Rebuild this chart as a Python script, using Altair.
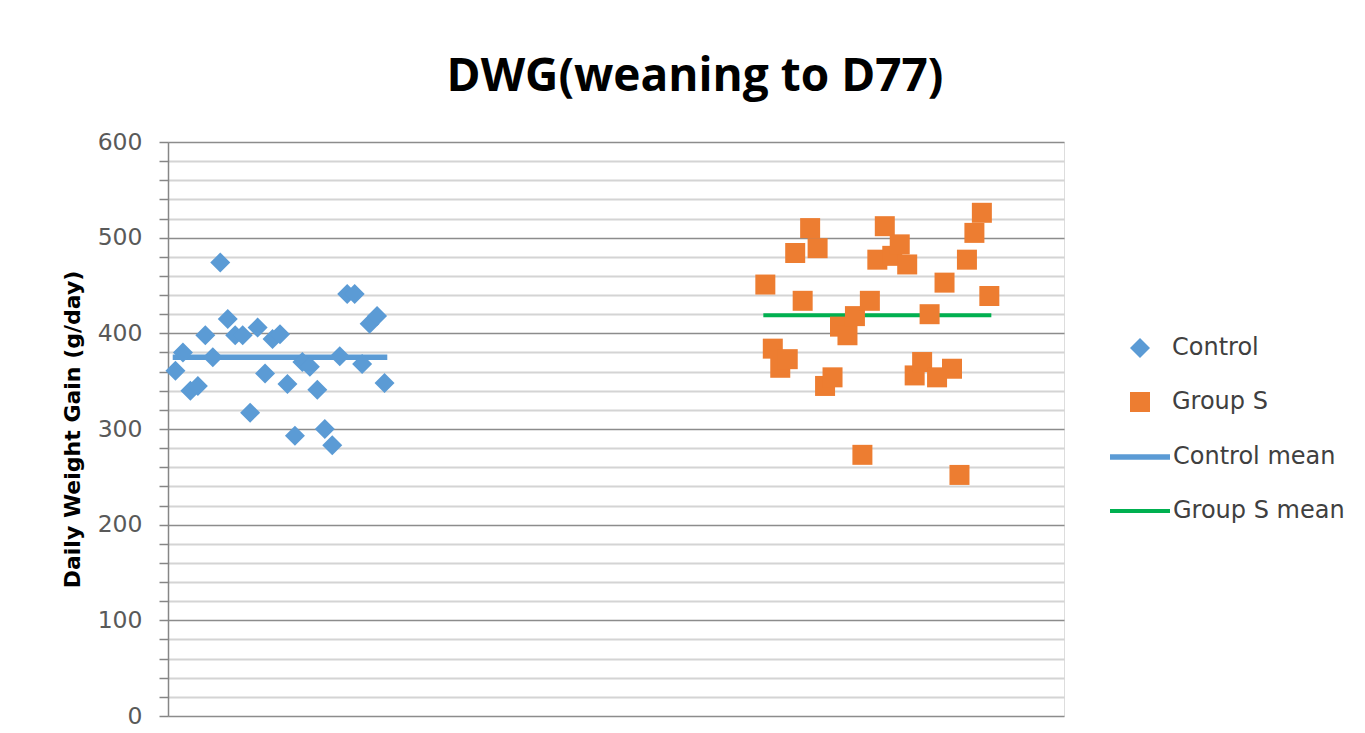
import altair as alt
import pandas as pd

# ---- data ----
control_x = list(range(1, 30))
control_values = [361, 380, 340, 345, 398, 375, 474, 415, 398, 398, 317, 406, 358, 394, 399,
                  347, 293, 370, 365, 341, 300, 283, 376, 441, 441, 368, 410, 418, 348]
group_s_x = list(range(80, 111))
group_s_values = [451, 384, 364, 373, 484, 434, 510, 489, 345, 354, 407, 398, 418, 273, 434,
                  477, 512, 481, 493, 472, 356, 370, 420, 354, 453, 363, 252, 477, 505, 526, 439]

point_names = ["Control", "Group S"]
point_colors = ["#5b9bd5", "#ed7d31"]
point_shapes = ["diamond", "square"]

mean_names = ["Control mean", "Group S mean"]
mean_colors = ["#5b9bd5", "#00b050"]
mean_values = [375, 419]
mean_start = [1, 80]
mean_end = [29, 110]
mean_widths = [5.5, 4]

y_ticks = list(range(0, 601, 20))

points = pd.DataFrame({
    "x": control_x + group_s_x,
    "y": control_values + group_s_values,
    "series": ["Control"] * len(control_values) + ["Group S"] * len(group_s_values),
})
means = pd.DataFrame({"line": mean_names, "y": mean_values, "x": mean_start, "x2": mean_end})

x_scale = alt.Scale(domain=[0, 120], nice=False, zero=False)
y_scale = alt.Scale(domain=[0, 600], nice=False)

y_axis = alt.Axis(
    values=y_ticks,
    labelExpr="datum.value % 100 === 0 ? datum.label : ''",
    labelOverlap=False,
    labelFont="DejaVu Sans", labelFontSize=23.5, labelColor="#595959", labelPadding=17,
    tickSize=9, tickColor="#868686", tickWidth=1.5,
    domainColor="#868686", domainWidth=1.5,
    grid=True,
    gridColor={"condition": {"test": "datum.value % 100 === 0", "value": "#8c8c8c"}, "value": "#d4d4d4"},
    gridWidth={"condition": {"test": "datum.value % 100 === 0", "value": 1.6}, "value": 2},
    title="Daily Weight Gain  (g/day)",
    titleFont="DejaVu Sans", titleFontSize=22, titleFontWeight="bold", titleColor="#000000",
    titlePadding=13,
)

marker_legend = alt.Legend(
    title=None, orient="none", legendX=960, legendY=194,
    symbolSize=400, rowPadding=30, labelLimit=400,
    labelFont="DejaVu Sans", labelFontSize=24, labelColor="#404040", labelOffset=20,
)
line_legend = alt.Legend(
    title=None, orient="none", legendX=939, legendY=282,
    symbolSize=3600, symbolType="stroke", symbolStrokeWidth=4.5, rowPadding=10, labelLimit=400,
    labelFont="DejaVu Sans", labelFontSize=24, labelColor="#404040", labelOffset=0,
)

lines = alt.Chart(means).mark_rule(strokeCap="square").encode(
    x=alt.X("x:Q", scale=x_scale, axis=None),
    x2="x2:Q",
    y=alt.Y("y:Q", scale=y_scale, axis=y_axis),
    stroke=alt.Stroke("line:N", scale=alt.Scale(domain=mean_names, range=mean_colors), legend=line_legend),
    strokeWidth=alt.StrokeWidth("line:N", scale=alt.Scale(domain=mean_names, range=mean_widths), legend=None),
)

dots = alt.Chart(points).mark_point(filled=True, opacity=1, size=400, strokeWidth=0).encode(
    x=alt.X("x:Q", scale=x_scale, axis=None),
    y=alt.Y("y:Q", scale=y_scale, axis=y_axis),
    color=alt.Color("series:N", scale=alt.Scale(domain=point_names, range=point_colors), legend=marker_legend),
    shape=alt.Shape("series:N", scale=alt.Scale(domain=point_names, range=point_shapes), legend=marker_legend),
)

chart = alt.layer(lines, dots).properties(
    width=896, height=574,
    title=alt.TitleParams("DWG(weaning to D77)", font="Open Sans", fontSize=46, fontWeight="bold",
                          color="#000000", anchor="middle", dx=79, dy=57, offset=50, baseline="alphabetic"),
    autosize=alt.AutoSizeParams(type="none"),
    padding={"left": 160, "top": 134, "right": 290, "bottom": 12},
).configure_view(stroke=None).configure(background="#ffffff")

chart.save("out.html", embed_options={"renderer": "svg", "actions": False})
